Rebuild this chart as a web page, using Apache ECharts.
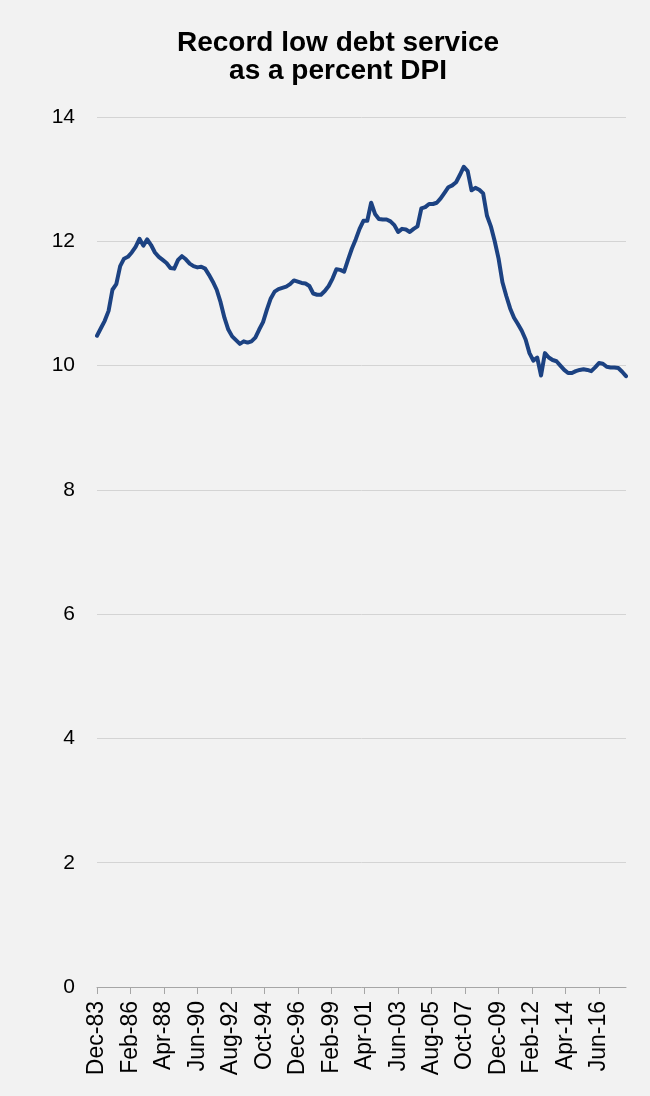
<!DOCTYPE html>
<html>
<head>
<meta charset="utf-8">
<style>
  html, body { margin: 0; padding: 0; background: #f2f2f2; }
  #chart { width: 650px; height: 1096px; }
</style>
<script src="https://cdn.jsdelivr.net/npm/echarts@6/dist/echarts.min.js"></script>
</head>
<body>
<div id="chart"></div>
<script>
// Household debt service payments as a percent of disposable personal income,
// quarterly, first observation Dec-83.
const startLabel = 'Dec-83';
const monthsPerObs = 3;
const dsr = [
  10.48, 10.60, 10.72, 10.88, 11.22, 11.31, 11.60, 11.72, 11.75, 11.82,
  11.91, 12.04, 11.93, 12.03, 11.94, 11.82, 11.75, 11.70, 11.65, 11.57,
  11.56, 11.70, 11.76, 11.71, 11.64, 11.60, 11.58, 11.59, 11.56, 11.46,
  11.35, 11.22, 11.02, 10.77, 10.58, 10.47, 10.41, 10.35, 10.39, 10.37,
  10.39, 10.45, 10.58, 10.70, 10.90, 11.08, 11.19, 11.23, 11.25, 11.27,
  11.31, 11.37, 11.35, 11.33, 11.32, 11.28, 11.16, 11.14, 11.14, 11.20,
  11.28, 11.40, 11.55, 11.54, 11.51, 11.70, 11.88, 12.03, 12.20, 12.33,
  12.33, 12.62, 12.44, 12.36, 12.35, 12.35, 12.32, 12.26, 12.15, 12.20,
  12.19, 12.15, 12.20, 12.24, 12.53, 12.55, 12.60, 12.60, 12.62, 12.69,
  12.78, 12.87, 12.90, 12.95, 13.07, 13.20, 13.13, 12.82, 12.86, 12.83,
  12.77, 12.41, 12.24, 12.00, 11.72, 11.34, 11.12, 10.92, 10.77, 10.67,
  10.56, 10.42, 10.20, 10.08, 10.13, 9.84, 10.20, 10.13, 10.09, 10.07,
  10.00, 9.93, 9.88, 9.88, 9.91, 9.93, 9.94, 9.93, 9.91, 9.97,
  10.04, 10.03, 9.98, 9.97, 9.97, 9.96, 9.90, 9.83
];

// Date labels shown along the bottom, one every 26 months from Dec-83.
const tickLabels = [
  'Dec-83', 'Feb-86', 'Apr-88', 'Jun-90', 'Aug-92', 'Oct-94', 'Dec-96', 'Feb-99',
  'Apr-01', 'Jun-03', 'Aug-05', 'Oct-07', 'Dec-09', 'Feb-12', 'Apr-14', 'Jun-16'
];
const tickStep = 26; // months between labelled ticks

// Month offset from the first observation for every point.
const seriesData = dsr.map((v, i) => [i * monthsPerObs, v]);
const tickMonths = tickLabels.map((_, i) => i * tickStep);
const lastMonth = (dsr.length - 1) * monthsPerObs;

const chart = echarts.init(document.getElementById('chart'), null, { renderer: 'canvas' });
const FONT = 'Liberation Sans, Arial, sans-serif';

chart.setOption({
  backgroundColor: '#f2f2f2',
  animation: false,
  title: {
    text: 'Record low debt service\nas a percent DPI',
    left: 333,
    top: 24,
    textAlign: 'center',
    textStyle: {
      fontFamily: FONT,
      fontSize: 28,
      fontWeight: 'bold',
      color: '#000',
      lineHeight: 28
    }
  },
  grid: {
    left: 97,
    right: 24,
    top: 117,
    bottom: 109,
    containLabel: false
  },
  xAxis: {
    type: 'value',
    min: 0,
    max: lastMonth,
    interval: tickStep,
    splitLine: { show: false },
    axisLine: { show: true, lineStyle: { color: '#a6a6a6', width: 1 } },
    axisTick: {
      show: true,
      length: 7,
      customValues: tickMonths,
      lineStyle: { color: '#a6a6a6', width: 1 }
    },
    axisLabel: {
      customValues: tickMonths,
      rotate: 90,
      margin: 14,
      fontFamily: FONT,
      fontSize: 23,
      color: '#000',
      formatter: (v) => tickLabels[Math.round(v / tickStep)] || ''
    }
  },
  yAxis: {
    type: 'value',
    min: 0,
    max: 14,
    interval: 2,
    axisLine: { show: false },
    axisTick: { show: false },
    splitLine: { show: true, lineStyle: { color: '#d4d4d4', width: 1 } },
    axisLabel: {
      margin: 22,
      fontFamily: FONT,
      fontSize: 21,
      color: '#000',
      formatter: (v) => String(v)
    }
  },
  series: [{
    name: startLabel,
    type: 'line',
    data: seriesData,
    showSymbol: false,
    symbol: 'none',
    smooth: false,
    lineStyle: { color: '#1c4282', width: 4, join: 'round', cap: 'round' }
  }]
});
</script>
</body>
</html>
